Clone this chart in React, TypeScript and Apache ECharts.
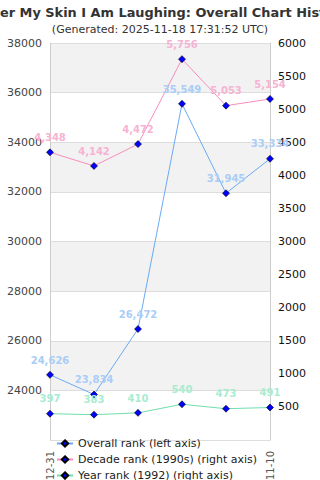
import React, { useEffect, useRef } from "react";
import * as echarts from "echarts";

const titleText = "Under My Skin I Am Laughing: Overall Chart History";
const subtitleText = "(Generated: 2025-11-18 17:31:52 UTC)";
const dates = ["1992-12-31", "1993-12-31", "1994-12-31", "1995-12-31", "2000-12-31", "2025-11-10"];
const overallRank = [24626, 23834, 26472, 35549, 31945, 33334];
const decadeRank = [4348, 4142, 4472, 5756, 5053, 5154];
const yearRank = [397, 383, 410, 540, 473, 491];
const seriesNames = ["Overall rank (left axis)", "Decade rank (1990s) (right axis)", "Year rank (1992) (right axis)"];

export default function App() {
  const ref = useRef<HTMLDivElement>(null);
  useEffect(() => {
    const chart = echarts.init(ref.current!, null, { renderer: "svg" });
    const fmt = (p: any) => Number(p.value).toLocaleString("en-US");
    const mk = (name: string, data: number[], yIdx: number, line: string, lab: string) => ({
      name,
      type: "line",
      yAxisIndex: yIdx,
      data,
      symbol: "diamond",
      symbolSize: 7,
      itemStyle: { color: "#0000ff", borderColor: "#000", borderWidth: 0.6 },
      lineStyle: { color: line, width: 1 },
      label: { show: true, position: "top", distance: 6, color: lab, fontSize: 10, fontWeight: "bold", fontFamily: "DejaVu Sans", formatter: fmt },
    });
    chart.setOption({
      animation: false,
      title: {
        text: titleText,
        subtext: subtitleText,
        left: "center",
        top: 1,
        itemGap: 5,
        textStyle: { fontSize: 12.9, fontWeight: "bold", color: "#333", fontFamily: "DejaVu Sans" },
        subtextStyle: { fontSize: 11, color: "#333", fontFamily: "DejaVu Sans" },
      },
      grid: { left: 50, right: 50, top: 43, bottom: 40, outerBoundsMode: "none", containLabel: false },
      legend: {
        orient: "vertical",
        left: 51,
        top: 433,
        height: 80,
        itemWidth: 16,
        itemHeight: 8,
        itemGap: 5,
        textStyle: { fontSize: 11, color: "#222", fontFamily: "DejaVu Sans" },
        data: seriesNames,
      },
      xAxis: {
        type: "category",
        data: dates,
        boundaryGap: false,
        axisLine: { show: false },
        axisTick: { show: false },
        axisLabel: {
          rotate: 90,
          margin: 11,
          interval: (i: number) => i === 0 || i === dates.length - 1,
          fontSize: 10,
          color: "#555",
          fontFamily: "DejaVu Sans",
        },
      },
      yAxis: [
        {
          type: "value",
          min: 22000,
          max: 38000,
          interval: 2000,
          axisLine: { show: true, lineStyle: { color: "#ccc" } },
          axisTick: { show: false },
          axisLabel: { showMinLabel: false, fontSize: 11, color: "#444", fontFamily: "DejaVu Sans", formatter: (v: number) => String(v) },
          splitLine: { show: true, lineStyle: { color: "#ddd" } },
          splitArea: { show: true, areaStyle: { color: ["#ffffff", "#f2f2f2"] } },
        },
        {
          type: "value",
          min: 0,
          max: 6000,
          interval: 500,
          axisLine: { show: true, lineStyle: { color: "#ccc" } },
          axisTick: { show: false },
          axisLabel: { showMinLabel: false, fontSize: 11, color: "#111", fontFamily: "DejaVu Sans", formatter: (v: number) => String(v) },
          splitLine: { show: false },
        },
      ],
      series: [
        mk(seriesNames[0], overallRank, 0, "#6aaaf5", "#a9cdf7"),
        mk(seriesNames[1], decadeRank, 1, "#f78dc0", "#f6b3d3"),
        mk(seriesNames[2], yearRank, 1, "#6fdfae", "#a9ecd0"),
      ],
    });
    return () => chart.dispose();
  }, []);
  return <div ref={ref} style={{ position: "absolute", left: 0, top: 0, width: 320, height: 480 }} />;
}
